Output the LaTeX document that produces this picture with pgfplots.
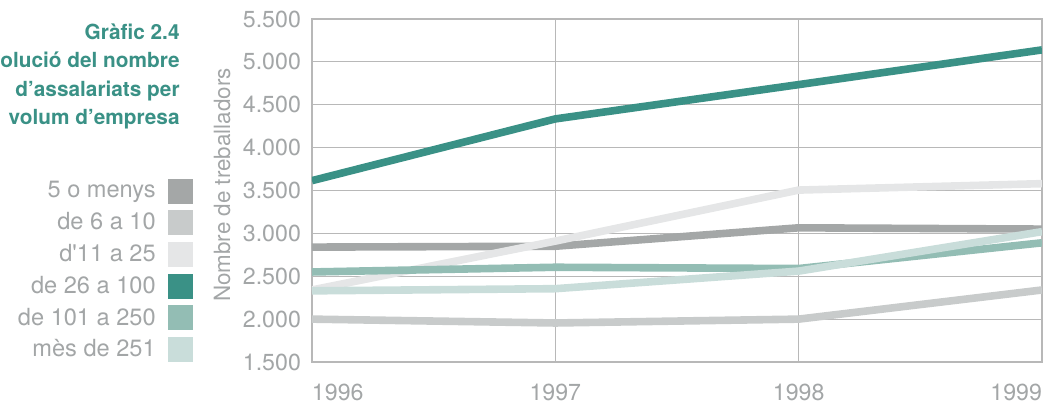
\documentclass[border=0pt]{standalone}
\usepackage{fontspec}
\setmainfont{TeX Gyre Heros}
\usepackage{pgfplots}
\pgfplotsset{compat=1.18}

\definecolor{txtgray}{HTML}{A3A6A7}
\definecolor{gridgray}{HTML}{B8B8B8}
\definecolor{cA}{HTML}{A4A7A7}
\definecolor{cB}{HTML}{C8CBCB}
\definecolor{cC}{HTML}{E5E6E7}
\definecolor{cD}{HTML}{3A9186}
\definecolor{cE}{HTML}{93BDB4}
\definecolor{cF}{HTML}{C9DDDA}

\begin{document}
\begin{tikzpicture}
\begin{axis}[
  name=ax, at={(0,0)}, anchor=south west,
  scale only axis, width=365pt, height=171.5pt,
  xmin=1996, xmax=1999, ymin=1500, ymax=5500,
  xtick={1996,1997,1998,1999},
  xticklabels={\makebox[0pt][l]{1996},1997,1998,\makebox[0pt][r]{1999}},
  ytick distance=500,
  grid=major, grid style={gridgray, line width=0.6pt},
  axis line style={gridgray, line width=0.6pt},
  major tick length=0pt,
  tick label style={font=\fontsize{11.6}{13}\selectfont, text=txtgray},
  xticklabel style={yshift=-7.5pt},
  yticklabel style={xshift=-2pt},
  /pgf/number format/1000 sep={.},
  /pgf/number format/assume math mode=true,
  ylabel={Nombre de treballadors},
  ylabel style={at={(axis description cs:-0.123,0.516)}, anchor=center,
    font=\fontsize{11.2}{13}\selectfont, text=txtgray},
  legend style={at={(axis description cs:-0.162,0.538)}, anchor=north east,
    draw=none, fill=none, inner sep=0pt, row sep=2.2pt,
    font=\fontsize{11.8}{13}\selectfont, text=txtgray,
    nodes={inner sep=1.8pt},
    /tikz/every odd column/.append style={column sep=4.5pt}},
  legend cell align=right,
  legend plot pos=right,
  legend image code/.code={\fill[#1, draw=none] (0pt,-6.25pt) rectangle (12.5pt,6.25pt);},
  every axis plot/.append style={line width=3.8pt},
]
\addplot[cA] coordinates {(1996,2840) (1997,2850) (1998,3065) (1999,3050)};
\addlegendentry{5 o menys}
\addplot[cB] coordinates {(1996,2000) (1997,1955) (1998,2000) (1999,2340)};
\addlegendentry{de 6 a 10}
\addplot[cC] coordinates {(1996,2340) (1997,2910) (1998,3505) (1999,3580)};
\addlegendentry{d\textquotesingle 11 a 25}
\addplot[cD] coordinates {(1996,3615) (1997,4335) (1998,4735) (1999,5140)};
\addlegendentry{de 26 a 100}
\addplot[cE] coordinates {(1996,2550) (1997,2605) (1998,2590) (1999,2890)};
\addlegendentry{de 101 a 250}
\addplot[cF] coordinates {(1996,2330) (1997,2355) (1998,2560) (1999,3020)};
\addlegendentry{mès de 251}
\end{axis}
\node[anchor=north east, align=right, inner sep=0pt, text=cD,
  font=\bfseries\fontsize{10.4}{14.3}\selectfont] at (-66pt,169.5pt)
  {Gràfic 2.4\\Evolució del nombre\\d’assalariats per\\volum d’empresa};
\pgfresetboundingbox
\useasboundingbox (-156pt,-20.5pt) rectangle (367pt,181pt);
\end{tikzpicture}
\end{document}
